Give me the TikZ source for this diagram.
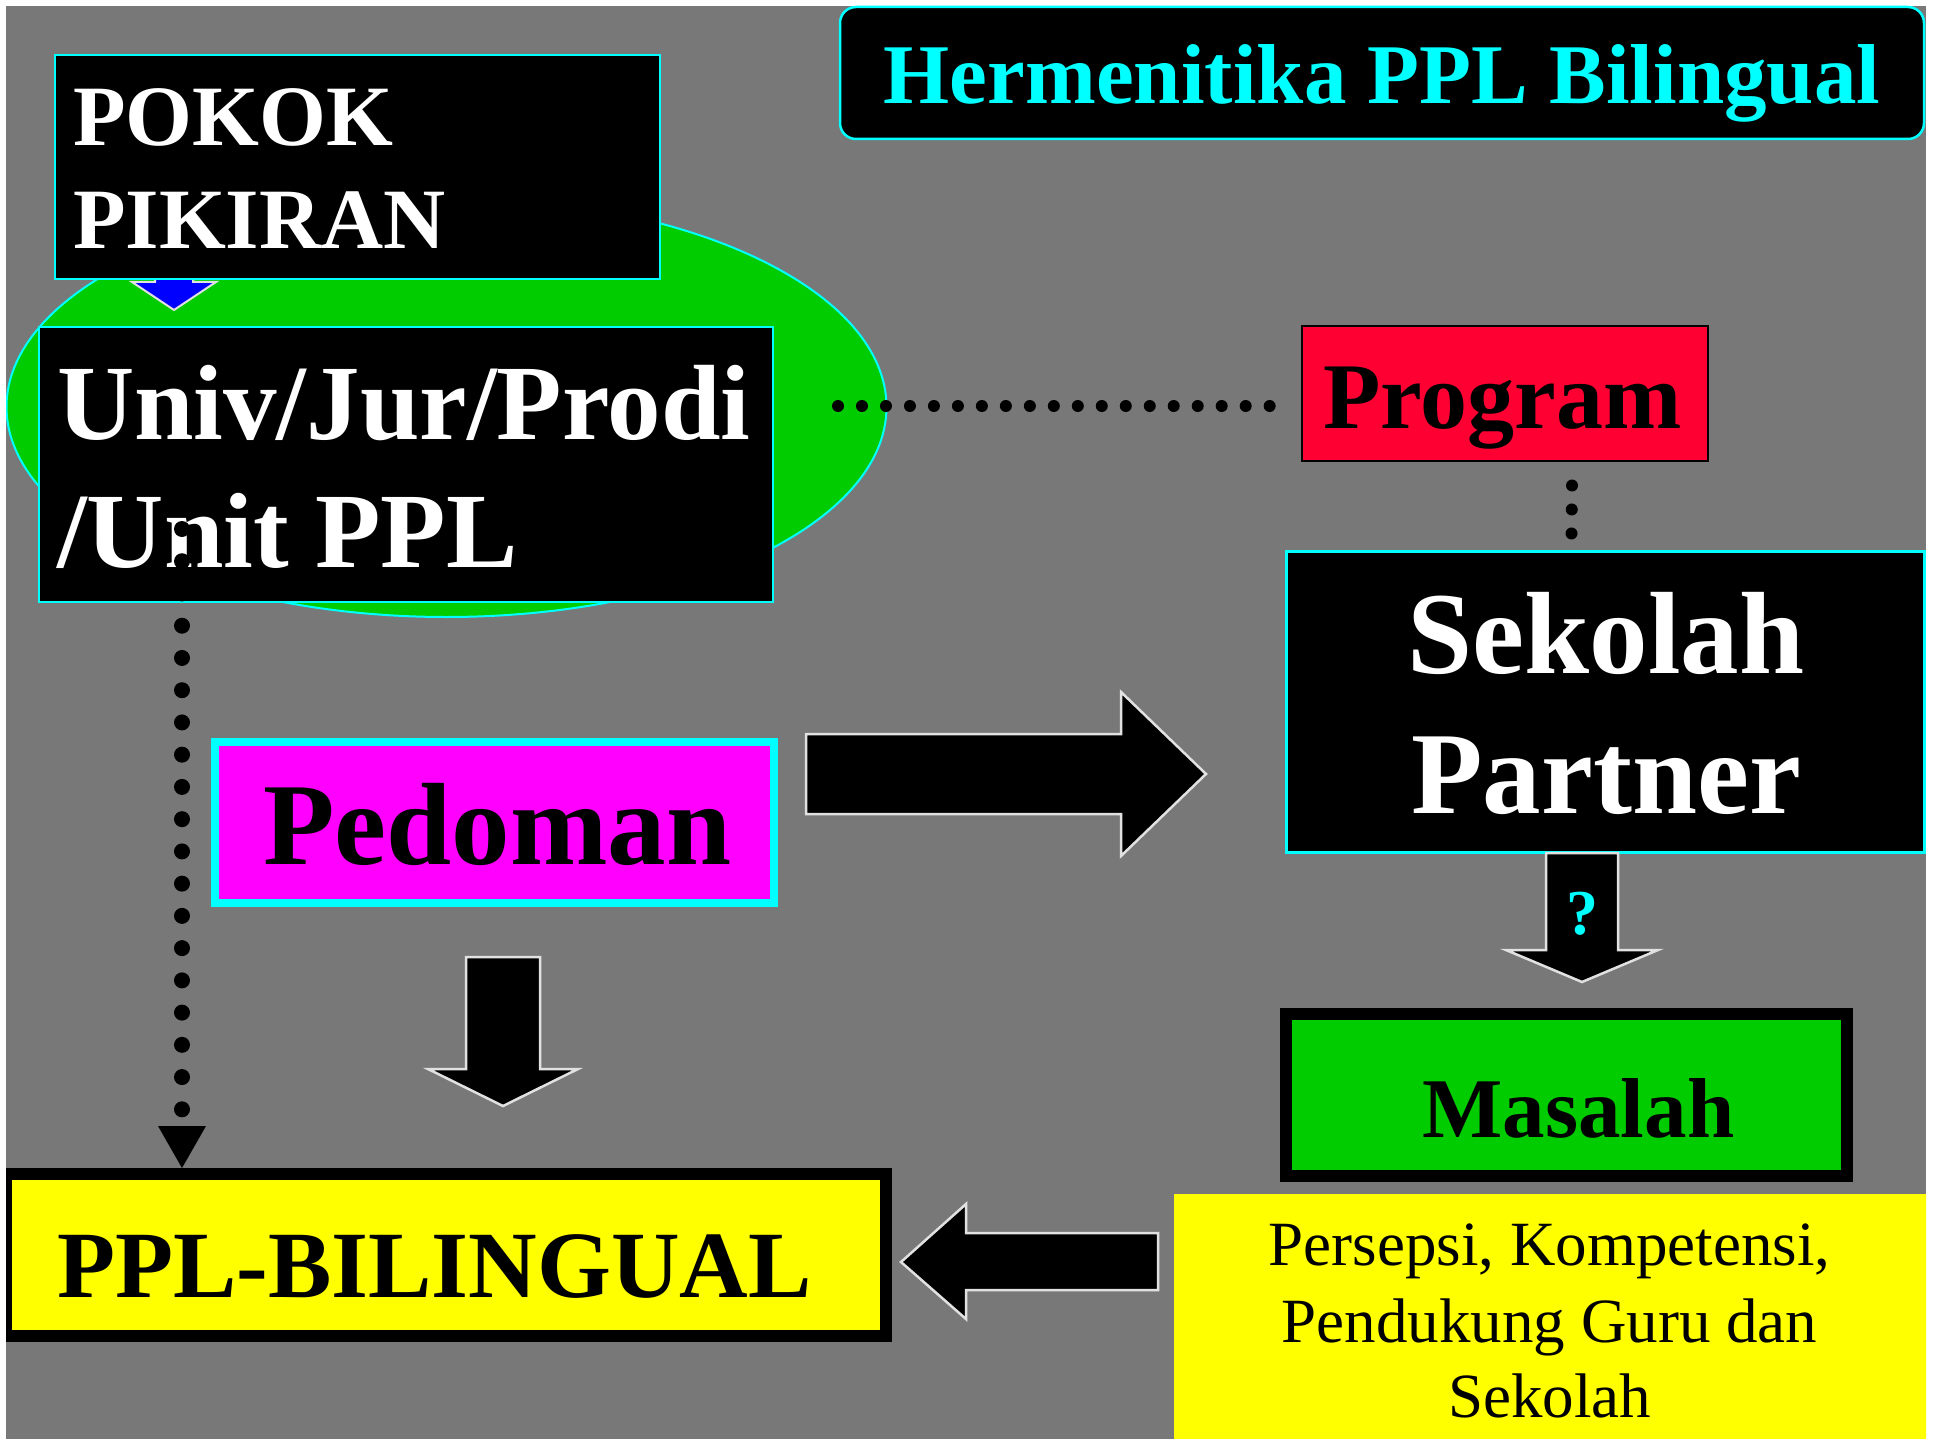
\documentclass[tikz,border=0pt]{standalone}
\usepackage{fontspec}
\setmainfont{Liberation Serif}
\usetikzlibrary{shapes.geometric,calc}
\definecolor{slidegray}{RGB}{120,120,120}
\definecolor{sgreen}{RGB}{0,204,0}
\definecolor{scyan}{RGB}{0,255,255}
\definecolor{sred}{RGB}{255,0,51}
\definecolor{smag}{RGB}{255,0,255}
\definecolor{syellow}{RGB}{255,255,0}
\definecolor{sblue}{RGB}{0,0,255}
\definecolor{outl}{RGB}{225,225,225}
\newcommand\pxsize[1]{\fontsize{#1}{#1}\selectfont}
\begin{document}
\begin{tikzpicture}[x=1pt,y=-1pt,
  panel/.style={rectangle, inner sep=0pt, outer sep=0pt},
  lbl/.style={inner sep=0pt, outer sep=0pt, anchor=base},
  blockarrow/.style={fill=black, draw=outl, line width=2.5pt, line join=miter},
  smalldots/.style={line width=12pt, line cap=round, dash pattern=on 0pt off 23.98pt},
  bigdots/.style={line width=16pt, line cap=round, dash pattern=on 0pt off 32.24pt},
]
\useasboundingbox (0,0) rectangle (1935,1439);
\fill[white] (0,0) rectangle (1935,1439);
\fill[slidegray] (6,6) rectangle (1926,1439);
\begin{scope}
\clip (6,6) rectangle (1926,1439);
% ellipse
\node[ellipse, inner sep=0pt, outer sep=0pt, fill=sgreen, draw=scyan, line width=2pt,
      minimum width=880pt, minimum height=420pt] (ell) at (446.5,407) {};
% blue arrow under POKOK box
\draw[fill=sblue, draw=outl, line width=2pt, line join=miter]
  (155,230) -- (193,230) -- (193,282) -- (216,282) -- (174,310) -- (132,282) -- (155,282) -- cycle;
% POKOK PIKIRAN
\node[panel, fill=black, draw=scyan, line width=2pt, minimum width=605pt, minimum height=224pt] (pokok) at (357.5,167) {};
\node[lbl, anchor=base west, text=white, font=\pxsize{86}\bfseries] (pokokA) at (73,146) {POKOK};
\node[lbl, anchor=base west, text=white, font=\pxsize{86}\bfseries] (pokokB) at (73,249) {PIKIRAN};
% Univ box
\node[panel, fill=black, draw=scyan, line width=2pt, minimum width=734pt, minimum height=275pt] (univ) at (406,464.5) {};
\node[lbl, anchor=base west, text=white, font=\pxsize{107}\bfseries] (univA) at (57,439) {Univ/Jur/Prodi};
\node[lbl, anchor=base west, text=white, font=\pxsize{107}\bfseries] (univB) at (57,567) {/Unit PPL};
% title
\node[panel, fill=black, draw=scyan, line width=2.5pt, rounded corners=16pt,
      minimum width=1084pt, minimum height=132pt] (title) at (1382,73) {};
\node[lbl, text=scyan, font=\pxsize{85}\bfseries] (titletext) at (1382,104) {Hermenitika PPL Bilingual};
% Program
\node[panel, fill=sred, draw=black, line width=2pt, minimum width=406pt, minimum height=135pt] (prog) at (1505,393.5) {};
\node[lbl, text=black, font=\pxsize{94}\bfseries] (progtext) at (1502.5,428) {Program};
% Sekolah Partner
\node[panel, fill=black, draw=scyan, line width=2.5pt, minimum width=638pt, minimum height=301pt] (sek) at (1605.5,702) {};
\node[lbl, text=white, font=\pxsize{117}\bfseries] (sekA) at (1606,673) {Sekolah};
\node[lbl, text=white, font=\pxsize{117}\bfseries] (sekB) at (1606,813) {Partner};
% Pedoman
\node[panel, fill=smag, draw=scyan, line width=8pt, minimum width=559pt, minimum height=161pt] (ped) at (494.5,822.5) {};
\node[lbl, text=black, font=\pxsize{117}\bfseries] (pedtext) at (497.5,864) {Pedoman};
% block arrows
\draw[blockarrow] (806,734) -- (1121,734) -- (1121,692) -- (1206,774) -- (1121,856) -- (1121,814) -- (806,814) -- cycle;
\draw[blockarrow] (466,957) -- (540,957) -- (540,1069) -- (578,1069) -- (503,1106) -- (428,1069) -- (466,1069) -- cycle;
\draw[blockarrow] (1546,853) -- (1618,853) -- (1618,950) -- (1658,950) -- (1582,982) -- (1506,950) -- (1546,950) -- cycle;
\node[lbl, text=scyan, font=\pxsize{64}\bfseries] (qmark) at (1582,934) {?};
\draw[blockarrow] (1158,1233) -- (966,1233) -- (966,1204) -- (901,1262) -- (966,1319) -- (966,1290) -- (1158,1290) -- cycle;
% Masalah
\node[panel, fill=sgreen, draw=black, line width=12pt, minimum width=560.5pt, minimum height=161.5pt] (mas) at (1566.25,1094.75) {};
\node[lbl, text=black, font=\pxsize{85}\bfseries] (mastext) at (1578.5,1137) {Masalah};
% yellow explanation box
\node[panel, fill=syellow, minimum width=756pt, minimum height=251pt] (expl) at (1552,1319.5) {};
\node[lbl, text=black, font=\pxsize{63}] (explA) at (1549.5,1265) {Persepsi, Kompetensi,};
\node[lbl, text=black, font=\pxsize{63}] (explB) at (1549.5,1342) {Pendukung Guru dan};
\node[lbl, text=black, font=\pxsize{63}] (explC) at (1549.5,1417) {Sekolah};
% PPL-BILINGUAL
\node[panel, fill=syellow, draw=black, line width=12pt, minimum width=880pt, minimum height=161.5pt] (ppl) at (446,1254.75) {};
\node[lbl, text=black, font=\pxsize{95}\bfseries] (ppltext) at (434.5,1297) {PPL-BILINGUAL};
% dotted connectors
\draw[smalldots] ($(ell.east)+(-48.5,-1)$) -- ($(prog.west)+(-32,12.5)$);
\draw[smalldots] ($(prog.south)+(67,24.5)$) -- ($(sek.north)+(-34,-18)$);
\draw[bigdots] ($(univ.south west)+(143,-73)$) -- ($(ppl.north west)+(176,-64)$);
\fill[black] ($(ppl.north west)+(152,-48)$) -- ($(ppl.north west)+(200,-48)$) -- ($(ppl.north west)+(176,-6)$) -- cycle;
\end{scope}
\end{tikzpicture}
\end{document}
